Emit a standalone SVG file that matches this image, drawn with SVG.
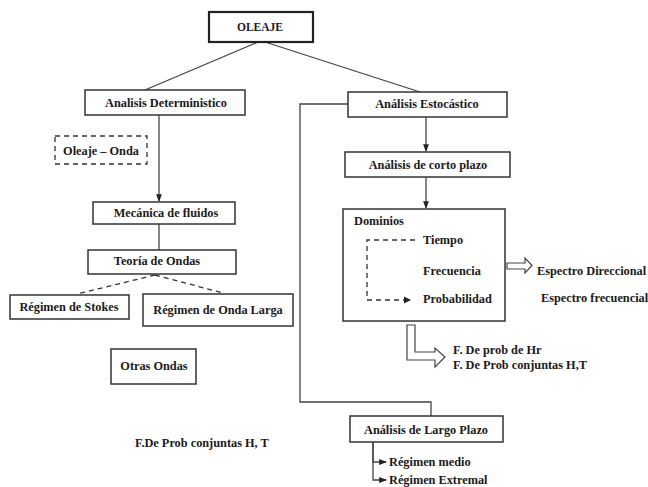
<svg xmlns="http://www.w3.org/2000/svg" width="648" height="487" viewBox="0 0 648 487" font-family="'Liberation Serif', 'Times New Roman', serif">
<defs>
<style>
text{font-family:"Liberation Serif","DejaVu Serif",serif;font-weight:bold;font-size:12.3px;fill:#1a1a1a}
.c{text-anchor:middle}
.box{fill:#fff;stroke:#333;stroke-width:1.5}
.ln{fill:none;stroke:#444;stroke-width:1.3}
.dash{fill:none;stroke:#333;stroke-width:1.3;stroke-dasharray:5,4}
.hollow{fill:#fff;stroke:#444;stroke-width:1.2}
</style>
<marker id="ah" viewBox="0 0 8 8" refX="7" refY="4" markerWidth="6" markerHeight="6" orient="auto">
<path d="M0,1 L8,4 L0,7 z" fill="#222"/>
</marker>
</defs>
<rect width="648" height="487" fill="#fff"/>
<g id="connectors">
<line class="ln" x1="258" y1="42" x2="145" y2="90"/>
<line class="ln" x1="265" y1="42" x2="420" y2="92"/>
<line class="ln" x1="159" y1="115" x2="159" y2="201" marker-end="url(#ah)"/>
<line class="ln" x1="159" y1="224" x2="159" y2="250"/>
<line class="dash" x1="155" y1="275" x2="77" y2="294"/>
<line class="dash" x1="155" y1="275" x2="223" y2="293"/>
<line class="ln" x1="426" y1="117" x2="426" y2="151" marker-end="url(#ah)"/>
<line class="ln" x1="426" y1="177" x2="426" y2="208" marker-end="url(#ah)"/>
<polyline class="ln" points="348,104 300,104 300,402 431,402 431,416"/>
<polyline class="ln" points="373,442 373,462 386,462" marker-end="url(#ah)"/>
<polyline class="ln" points="373,442 373,480 386,480" marker-end="url(#ah)"/>
<path class="hollow" d="M507,263 L525,263 L525,258 L532,265.5 L525,273 L525,269 L507,269 z"/>
<path class="hollow" d="M407,325 L415,325 L415,352 L435,352 L435,348 L445,357 L435,367 L435,360 L407,360 z"/>
</g>
<g id="oleaje">
<rect x="209" y="12" width="104" height="30" fill="#fff" stroke="#222" stroke-width="2.2"/>
<text class="c" x="260" y="31" style="font-size:11.5px">OLEAJE</text>
</g>
<g id="analisis-deterministico">
<rect class="box" x="85" y="90" width="160" height="25"/>
<text class="c" x="166" y="107">Analisis Deterministico</text>
</g>
<g id="oleaje-onda">
<rect class="dash" x="55" y="136" width="92" height="28"/>
<text class="c" x="101" y="155">Oleaje – Onda</text>
</g>
<g id="mecanica">
<rect class="box" x="93" y="202" width="142" height="22"/>
<text class="c" x="166" y="217">Mecánica de fluidos</text>
</g>
<g id="teoria">
<rect class="box" x="88" y="250" width="148" height="24"/>
<text class="c" x="157" y="265">Teoría de Ondas</text>
</g>
<g id="stokes">
<rect class="box" x="10" y="295" width="119" height="24"/>
<text class="c" x="69" y="311">Régimen de Stokes</text>
</g>
<g id="onda-larga">
<rect class="box" x="143" y="294" width="150" height="32"/>
<text class="c" x="218" y="314">Régimen de Onda Larga</text>
</g>
<g id="otras-ondas">
<rect class="box" x="111" y="349" width="85" height="35"/>
<text class="c" x="154" y="370">Otras Ondas</text>
</g>
<g id="fdeprob-left">
<text x="135" y="447">F.De Prob conjuntas H, T</text>
</g>
<g id="analisis-estocastico">
<rect class="box" x="348" y="92" width="159" height="25"/>
<text class="c" x="427" y="108">Análisis Estocástico</text>
</g>
<g id="corto-plazo">
<rect class="box" x="345" y="152" width="165" height="25"/>
<text class="c" x="428" y="169">Análisis de corto plazo</text>
</g>
<g id="dominios">
<rect class="box" x="343" y="209" width="162" height="112"/>
<text x="354" y="225">Dominios</text>
<polyline class="dash" points="415,240 367,240 367,300 405,300"/>
<path d="M404,296.5 L411,300 L404,303.5 z" fill="#222"/>
<text x="423" y="244">Tiempo</text>
<text x="423" y="275">Frecuencia</text>
<text x="423" y="303">Probabilidad</text>
</g>
<g id="espectros">
<text x="537" y="275">Espectro Direccional</text>
<text x="541" y="302">Espectro frecuencial</text>
</g>
<g id="fdeprob-right">
<text x="453" y="354">F. De prob de Hr</text>
<text x="453" y="369">F. De Prob conjuntas H,T</text>
</g>
<g id="largo-plazo">
<rect class="box" x="350" y="416" width="153" height="26"/>
<text class="c" x="426" y="434">Análisis de Largo Plazo</text>
</g>
<g id="regimenes">
<text x="389" y="466">Régimen medio</text>
<text x="389" y="484">Régimen Extremal</text>
</g>
</svg>
